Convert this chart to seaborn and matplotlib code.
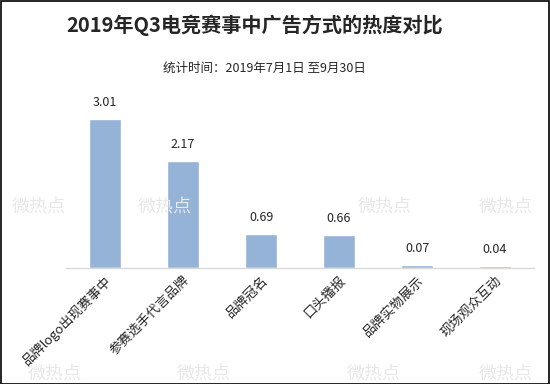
import pandas as pd
import matplotlib.pyplot as plt
import seaborn as sns

categories = ["品牌logo出现赛事中", "参赛选手代言品牌", "品牌冠名", "口头播报", "品牌实物展示", "现场观众互动"]
values = [3.01, 2.17, 0.69, 0.66, 0.07, 0.04]

df = pd.DataFrame({"方式": categories, "热度": values})

sns.set_style("white")
plt.rcParams['font.family'] = ['Noto Sans CJK SC', 'DejaVu Sans']

fig = plt.figure(figsize=(5.5, 3.84), dpi=100)
ax = fig.add_axes([0.12, 0.302, 0.851, 0.451])

sns.barplot(data=df, x="方式", y="热度", color="#94B3D7", width=0.41, saturation=1, ax=ax)
ax.set_ylim(0, 3.5)
ax.set_xlim(-0.5, 5.5)

for i, v in enumerate(values):
    ax.text(i, v + 0.2, f"{v:.2f}", ha="center", va="bottom", fontsize=9)

ax.set_xlabel("")
ax.set_ylabel("")
ax.set_yticks([])
ax.tick_params(axis="x", length=0, pad=4)
ax.set_xticks(range(len(categories)))
ax.set_xticklabels(categories, rotation=45, ha="right", rotation_mode="anchor", fontsize=9.5)
for s in ["top", "left", "right"]:
    ax.spines[s].set_visible(False)
ax.spines["bottom"].set_color("#D9D9D9")
ax.spines["bottom"].set_linewidth(1)

# watermarks
for (wx, wy) in [(0.07, 0.46), (0.3, 0.46), (0.7, 0.46), (0.92, 0.46),
                 (0.1, 0.025), (0.37, 0.025), (0.68, 0.025), (0.92, 0.025)]:
    fig.text(wx, wy, "微热点", fontsize=13, color="#E8E8E8", ha="center", va="center", zorder=0)

fig.text(0.462, 0.935, "2019年Q3电竞赛事中广告方式的热度对比", ha="center", va="center",
         fontsize=14.5, fontweight="bold")
fig.text(0.48, 0.823, "统计时间：2019年7月1日 至9月30日", ha="center", va="center", fontsize=9)

border = plt.Rectangle((0.001, 0.001), 0.997, 0.997, transform=fig.transFigure,
                       fill=False, edgecolor="black", linewidth=1.2)
fig.patches.append(border)

fig.savefig("out.png", dpi=100)
